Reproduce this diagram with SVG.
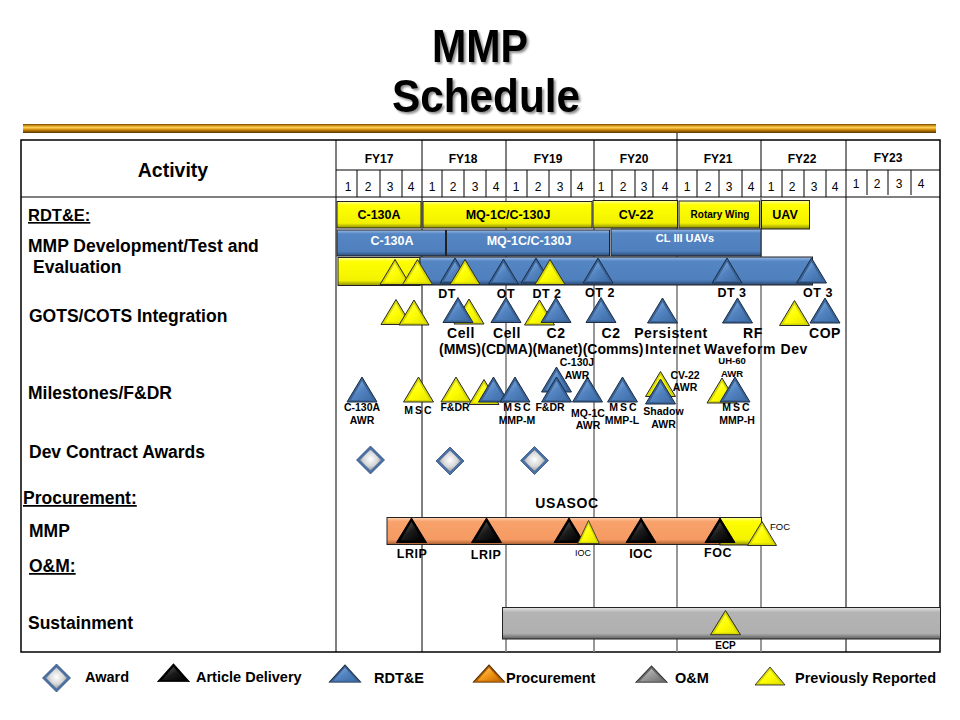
<svg xmlns="http://www.w3.org/2000/svg" xmlns:xlink="http://www.w3.org/1999/xlink" width="960" height="720" viewBox="0 0 960 720">
<style>
  text { font-family: "Liberation Sans", Arial, sans-serif; fill: #000; }
  .b { font-weight: bold; }
  .row { font-size: 17.5px; font-weight: bold; }
  .ul { text-decoration: underline; }
  .fy { font-size: 12px; font-weight: bold; text-anchor: middle; }
  .q { font-size: 12px; text-anchor: middle; }
  .bar { font-size: 12.5px; font-weight: bold; text-anchor: middle; }
  .barw { font-size: 12.5px; font-weight: bold; text-anchor: middle; fill: #fff; }
  .tl { font-size: 12.5px; font-weight: bold; text-anchor: middle; letter-spacing: 0.5px; }
  .gl { font-size: 14px; font-weight: bold; text-anchor: middle; letter-spacing: 0.6px; }
  .gl2 { font-size: 14px; font-weight: bold; text-anchor: middle; }
  .ml { font-size: 10.5px; font-weight: bold; text-anchor: middle; }
  .sp { letter-spacing: 2px; }
  .leg { font-size: 14.5px; font-weight: bold; }
  .grid { stroke: #000; stroke-width: 1; fill: none; }
  .gridg { stroke: #7f7f7f; stroke-width: 1.6; fill: none; }
  .ybar { fill: url(#gYel); stroke: #222; stroke-width: 1; }
  .bbar { fill: url(#gBlu); stroke: #222; stroke-width: 1; }
  .obar { fill: url(#gOra); stroke: #222; stroke-width: 1; }
  .gbar { fill: url(#gGry); stroke: #222; stroke-width: 1; }
</style>
<defs>
  <filter id="shadow" x="-10%" y="-20%" width="130%" height="150%">
    <feGaussianBlur in="SourceAlpha" stdDeviation="1"/>
    <feOffset dx="2" dy="2" result="off"/>
    <feComponentTransfer><feFuncA type="linear" slope="0.45"/></feComponentTransfer>
    <feMerge><feMergeNode/><feMergeNode in="SourceGraphic"/></feMerge>
  </filter>
  <linearGradient id="gGold" x1="0" y1="0" x2="0" y2="1">
    <stop offset="0" stop-color="#6e4300"/>
    <stop offset="0.2" stop-color="#d89a18"/>
    <stop offset="0.4" stop-color="#ffcf5a"/>
    <stop offset="0.55" stop-color="#e3a21c"/>
    <stop offset="0.75" stop-color="#a86c00"/>
    <stop offset="1" stop-color="#5a3500"/>
  </linearGradient>
  <linearGradient id="gYel" x1="0" y1="0" x2="0" y2="1">
    <stop offset="0" stop-color="#ffff99"/>
    <stop offset="0.15" stop-color="#ffff00"/>
    <stop offset="0.82" stop-color="#f2f200"/>
    <stop offset="1" stop-color="#8c8c00"/>
  </linearGradient>
  <linearGradient id="gBlu" x1="0" y1="0" x2="0" y2="1">
    <stop offset="0" stop-color="#9dbde6"/>
    <stop offset="0.15" stop-color="#5586c4"/>
    <stop offset="0.82" stop-color="#4f80bd"/>
    <stop offset="1" stop-color="#2a4a74"/>
  </linearGradient>
  <linearGradient id="gOra" x1="0" y1="0" x2="0" y2="1">
    <stop offset="0" stop-color="#ffd2b0"/>
    <stop offset="0.15" stop-color="#f9a26c"/>
    <stop offset="0.82" stop-color="#f59a62"/>
    <stop offset="1" stop-color="#a85e30"/>
  </linearGradient>
  <linearGradient id="gGry" x1="0" y1="0" x2="0" y2="1">
    <stop offset="0" stop-color="#e6e6e6"/>
    <stop offset="0.15" stop-color="#b4b4b4"/>
    <stop offset="0.82" stop-color="#b0b0b0"/>
    <stop offset="1" stop-color="#5e5e5e"/>
  </linearGradient>
  <linearGradient id="tgY" x1="0" y1="0" x2="1" y2="1">
    <stop offset="0" stop-color="#ffff80"/>
    <stop offset="0.5" stop-color="#ffff00"/>
    <stop offset="1" stop-color="#e6e600"/>
  </linearGradient>
  <linearGradient id="tgB" x1="0" y1="0" x2="1" y2="1">
    <stop offset="0" stop-color="#8fb4e3"/>
    <stop offset="0.5" stop-color="#5283c0"/>
    <stop offset="1" stop-color="#3e6ca6"/>
  </linearGradient>
  <linearGradient id="tgK" x1="0" y1="0" x2="1" y2="1">
    <stop offset="0" stop-color="#6a6a6a"/>
    <stop offset="0.5" stop-color="#1a1a1a"/>
    <stop offset="1" stop-color="#000"/>
  </linearGradient>
  <linearGradient id="tgO" x1="0" y1="0" x2="1" y2="1">
    <stop offset="0" stop-color="#ffd080"/>
    <stop offset="0.5" stop-color="#f39a1a"/>
    <stop offset="1" stop-color="#c66a00"/>
  </linearGradient>
  <linearGradient id="tgG" x1="0" y1="0" x2="1" y2="1">
    <stop offset="0" stop-color="#d0d0d0"/>
    <stop offset="0.5" stop-color="#9a9a9a"/>
    <stop offset="1" stop-color="#707070"/>
  </linearGradient>
  <radialGradient id="gDia" cx="0.5" cy="0.45" r="0.6">
    <stop offset="0" stop-color="#ffffff"/>
    <stop offset="0.55" stop-color="#d8d8d8"/>
    <stop offset="1" stop-color="#8e8e8e"/>
  </radialGradient>

  <!-- milestone triangles: apex at origin, 30 wide, 25 high -->
  <g id="triY">
    <path d="M0,0 L15,25 L-15,25 Z" fill="#d6d600" stroke="#2a2a2a" stroke-width="1"/>
    <path d="M0,4 L11,23 L-11,23 Z" fill="url(#tgY)"/>
  </g>
  <g id="triB">
    <path d="M0,0 L15,25 L-15,25 Z" fill="#3a6498" stroke="#1b2c44" stroke-width="1"/>
    <path d="M0,4 L11,23 L-11,23 Z" fill="url(#tgB)"/>
  </g>
  <g id="triK">
    <path d="M0,0 L15,25 L-15,25 Z" fill="#000" stroke="#000" stroke-width="1"/>
    <path d="M0,4 L11,23 L-11,23 Z" fill="url(#tgK)"/>
  </g>
  <g id="triO">
    <path d="M0,0 L15,25 L-15,25 Z" fill="#b86000" stroke="#4a2a00" stroke-width="1"/>
    <path d="M0,4 L11,23 L-11,23 Z" fill="url(#tgO)"/>
  </g>
  <g id="triG">
    <path d="M0,0 L15,25 L-15,25 Z" fill="#6a6a6a" stroke="#333" stroke-width="1"/>
    <path d="M0,4 L11,23 L-11,23 Z" fill="url(#tgG)"/>
  </g>
  <g id="dia">
    <path d="M0,-14 L14,0 L0,14 L-14,0 Z" fill="#4a70a4" stroke="#34527c" stroke-width="0.8"/>
    <path d="M0,-10.5 L10.5,0 L0,10.5 L-10.5,0 Z" fill="url(#gDia)"/>
  </g>
</defs>

<rect width="960" height="720" fill="#fff"/>

<!-- title -->
<g id="title">
  <g filter="url(#shadow)">
    <text x="480" y="62" font-size="46" class="b" text-anchor="middle" textLength="96" lengthAdjust="spacingAndGlyphs">MMP</text>
    <text x="486" y="112" font-size="46" class="b" text-anchor="middle" textLength="188" lengthAdjust="spacingAndGlyphs">Schedule</text>
  </g>
  <rect x="23" y="124" width="913" height="9" fill="url(#gGold)"/>
</g>

<!-- table frame and grid -->
<g id="grid">
  <rect x="21" y="140" width="919" height="512" fill="none" stroke="#000" stroke-width="1.5"/>
  <line class="grid" x1="336" y1="170" x2="940" y2="170"/>
  <line class="grid" x1="21" y1="197" x2="940" y2="197"/>
  <line class="grid" x1="336" y1="140" x2="336" y2="652"/>
  <line class="grid" x1="677" y1="133" x2="677" y2="140"/>
  <!-- fiscal-year boundaries -->
  <path class="grid" d="M422,140V197 M506,140V197 M594,140V197 M677,140V197 M761,140V197 M846,140V197"/>
  <path class="grid" d="M422,197V652 M846,197V652"/>
  <path class="gridg" d="M506,197V652 M594,197V652 M677,197V652 M761,197V652"/>
  <!-- quarter separators -->
  <path class="grid" d="M357,170V197 M380,170V197 M402,170V197 M442,170V197 M464,170V197 M486,170V197 M527,170V197 M549,170V197 M571,170V197 M612,170V197 M635,170V197 M653,170V197 M697,170V197 M719,170V197 M742,170V197 M782,170V197 M804,170V197 M826,170V197 M867,170V195 M888,170V195 M911,170V195"/>
</g>

<!-- header labels -->
<g id="header">
  <text x="173" y="177" font-size="19.5" class="b" text-anchor="middle">Activity</text>
  <text class="fy" x="379" y="163">FY17</text>
  <text class="fy" x="463" y="163">FY18</text>
  <text class="fy" x="548" y="163">FY19</text>
  <text class="fy" x="634" y="163">FY20</text>
  <text class="fy" x="718" y="163">FY21</text>
  <text class="fy" x="802" y="163">FY22</text>
  <text class="fy" x="888" y="162">FY23</text>
  <text class="q" x="348" y="191">1</text><text class="q" x="368" y="191">2</text><text class="q" x="390" y="191">3</text><text class="q" x="411" y="191">4</text>
  <text class="q" x="432" y="191">1</text><text class="q" x="453" y="191">2</text><text class="q" x="475" y="191">3</text><text class="q" x="496" y="191">4</text>
  <text class="q" x="516" y="191">1</text><text class="q" x="538" y="191">2</text><text class="q" x="560" y="191">3</text><text class="q" x="580" y="191">4</text>
  <text class="q" x="601" y="191">1</text><text class="q" x="623" y="191">2</text><text class="q" x="644" y="191">3</text><text class="q" x="665" y="191">4</text>
  <text class="q" x="687" y="191">1</text><text class="q" x="708" y="191">2</text><text class="q" x="729" y="191">3</text><text class="q" x="751" y="191">4</text>
  <text class="q" x="771" y="191">1</text><text class="q" x="792" y="191">2</text><text class="q" x="814" y="191">3</text><text class="q" x="835" y="191">4</text>
  <text class="q" x="856" y="188">1</text><text class="q" x="877" y="188">2</text><text class="q" x="899" y="188">3</text><text class="q" x="921" y="188">4</text>
</g>

<!-- activity labels -->
<g id="activities">
  <text class="row ul" x="28" y="221" style="font-size:16.5px">RDT&amp;E:</text>
  <text class="row" x="28" y="252">MMP Development/Test and</text>
  <text class="row" x="33" y="273">Evaluation</text>
  <text class="row" x="29" y="322">GOTS/COTS Integration</text>
  <text class="row" x="28" y="399">Milestones/F&amp;DR</text>
  <text class="row" x="29" y="458">Dev Contract Awards</text>
  <text class="row ul" x="23" y="504">Procurement:</text>
  <text class="row" x="29" y="537">MMP</text>
  <text class="row ul" x="29" y="572">O&amp;M:</text>
  <text class="row" x="28" y="629">Sustainment</text>
</g>

<!-- RDT&E platform bars -->
<g id="platforms-reported">
  <rect class="ybar" x="337" y="201.5" width="84" height="26.5"/>
  <text class="bar" x="379" y="218.5">C-130A</text>
  <rect class="ybar" x="423" y="201.5" width="169" height="26.5"/>
  <text class="bar" x="508" y="218.5">MQ-1C/C-130J</text>
  <rect class="ybar" x="593" y="200.5" width="84.5" height="27.5"/>
  <text class="bar" x="636" y="218.5">CV-22</text>
  <rect class="ybar" x="679" y="201" width="80.5" height="27"/>
  <text class="bar" x="720" y="218" style="font-size:10px">Rotary Wing</text>
  <rect class="ybar" x="761.5" y="200.5" width="48" height="28.5"/>
  <text class="bar" x="785" y="218.5">UAV</text>
</g>
<g id="platforms-current">
  <rect class="bbar" x="337" y="230" width="108.5" height="26"/>
  <text class="barw" x="392" y="245">C-130A</text>
  <rect class="bbar" x="446.5" y="230" width="163" height="26"/>
  <text class="barw" x="529" y="245">MQ-1C/C-130J</text>
  <rect class="bbar" x="611" y="229" width="150" height="27"/>
  <text class="barw" x="685" y="242" style="font-size:11px">CL III UAVs</text>
</g>

<!-- development / test and evaluation -->
<g id="dev-test">
  <rect class="ybar" x="338" y="257.5" width="82" height="28"/>
  <rect class="bbar" x="420" y="257" width="392.5" height="28"/>
  <use xlink:href="#triY" transform="translate(395,259.5)"/>
  <use xlink:href="#triY" transform="translate(417.5,259.5)"/>
  <use xlink:href="#triB" transform="translate(455,258)"/>
  <use xlink:href="#triY" transform="translate(465,259.5)"/>
  <use xlink:href="#triB" transform="translate(503.5,259)"/>
  <use xlink:href="#triB" transform="translate(536,258)"/>
  <use xlink:href="#triY" transform="translate(550,259.5)"/>
  <use xlink:href="#triB" transform="translate(598,258)"/>
  <use xlink:href="#triB" transform="translate(727,258)"/>
  <use xlink:href="#triB" transform="translate(811.5,258)"/>
  <text class="tl" x="447" y="297.5">DT</text>
  <text class="tl" x="506" y="297.5">OT</text>
  <text class="tl" x="547" y="297.5">DT 2</text>
  <text class="tl" x="600" y="297">OT 2</text>
  <text class="tl" x="732" y="297">DT 3</text>
  <text class="tl" x="818" y="297">OT 3</text>
</g>

<!-- GOTS/COTS integration -->
<g id="gots-cots">
  <use xlink:href="#triY" transform="translate(396,299.5)"/>
  <use xlink:href="#triY" transform="translate(414,300)"/>
  <use xlink:href="#triY" transform="translate(469,299)"/>
  <use xlink:href="#triB" transform="translate(458,297.5)"/>
  <use xlink:href="#triB" transform="translate(506,297.5)"/>
  <use xlink:href="#triY" transform="translate(539.5,300)"/>
  <use xlink:href="#triB" transform="translate(556,297.5)"/>
  <use xlink:href="#triB" transform="translate(601,297.5)"/>
  <use xlink:href="#triB" transform="translate(662.5,298)"/>
  <use xlink:href="#triB" transform="translate(737.5,298)"/>
  <use xlink:href="#triY" transform="translate(794.5,300.5)"/>
  <use xlink:href="#triB" transform="translate(825,298)"/>
  <text class="gl" x="461" y="337.5">Cell</text>
  <text class="gl2" x="460" y="353.5">(MMS)</text>
  <text class="gl" x="507" y="337.5">Cell</text>
  <text class="gl2" x="507" y="353.5">(CDMA)</text>
  <text class="gl" x="556" y="337.5">C2</text>
  <text class="gl2" x="557.5" y="353.5">(Manet)</text>
  <text class="gl" x="611" y="337.5">C2</text>
  <text class="gl2" x="613" y="353.5">(Comms)</text>
  <text class="gl" x="671" y="337.5">Persistent</text>
  <text class="gl" x="673" y="353.5">Internet</text>
  <text class="gl" x="753" y="337.5">RF</text>
  <text class="gl" x="756" y="353.5">Waveform Dev</text>
  <text class="gl" x="825" y="337.5">COP</text>
</g>

<!-- milestones and F&DR -->
<g id="milestones">
  <use xlink:href="#triB" transform="translate(362,377)"/>
  <use xlink:href="#triY" transform="translate(418.5,377)"/>
  <use xlink:href="#triY" transform="translate(456,377)"/>
  <use xlink:href="#triY" transform="translate(484,379.5)"/>
  <use xlink:href="#triB" transform="translate(493.5,377)"/>
  <use xlink:href="#triB" transform="translate(515,377)"/>
  <use xlink:href="#triB" transform="translate(556.5,367)"/>
  <use xlink:href="#triB" transform="translate(556.5,377)"/>
  <use xlink:href="#triB" transform="translate(587.5,377)"/>
  <use xlink:href="#triB" transform="translate(622.5,377)"/>
  <use xlink:href="#triY" transform="translate(660.5,371.5)"/>
  <use xlink:href="#triB" transform="translate(660.5,379)"/>
  <use xlink:href="#triY" transform="translate(722,378)"/>
  <use xlink:href="#triB" transform="translate(735,377)"/>
  <text class="ml" x="362" y="411">C-130A</text>
  <text class="ml" x="362" y="423.5">AWR</text>
  <text class="ml sp" x="419" y="413.5">MSC</text>
  <text class="ml" x="455" y="411">F&amp;DR</text>
  <text class="ml sp" x="518" y="411">MSC</text>
  <text class="ml" x="517" y="424">MMP-M</text>
  <text class="ml" x="577" y="365.5">C-130J</text>
  <text class="ml" x="577" y="379">AWR</text>
  <text class="ml" x="550" y="411">F&amp;DR</text>
  <text class="ml" x="588" y="417">MQ-1C</text>
  <text class="ml" x="588" y="428.5">AWR</text>
  <text class="ml sp" x="624" y="411">MSC</text>
  <text class="ml" x="622" y="424">MMP-L</text>
  <text class="ml" x="685" y="378.5">CV-22</text>
  <text class="ml" x="685" y="391">AWR</text>
  <text class="ml" x="663.5" y="414.5">Shadow</text>
  <text class="ml" x="663.5" y="428">AWR</text>
  <text class="ml" x="732" y="364" style="font-size:9.5px">UH-60</text>
  <text class="ml" x="732" y="377" style="font-size:9.5px">AWR</text>
  <text class="ml sp" x="737" y="411">MSC</text>
  <text class="ml" x="737" y="423.5">MMP-H</text>
</g>

<!-- development contract awards -->
<g id="awards">
  <use xlink:href="#dia" transform="translate(370.5,460)"/>
  <use xlink:href="#dia" transform="translate(450,461)"/>
  <use xlink:href="#dia" transform="translate(534.5,460.5)"/>
</g>

<!-- procurement -->
<g id="procurement">
  <text class="gl" x="567" y="507.5">USASOC</text>
  <rect class="obar" x="387" y="517.5" width="333" height="27"/>
  <rect class="ybar" x="720" y="517.5" width="41.5" height="27.5"/>
  <use xlink:href="#triK" transform="translate(411.5,518) scale(1,0.98)"/>
  <use xlink:href="#triK" transform="translate(486.5,518) scale(1,0.98)"/>
  <use xlink:href="#triK" transform="translate(569,518) scale(1,0.98)"/>
  <use xlink:href="#triY" transform="translate(588.5,520.5) scale(0.72,0.92)"/>
  <use xlink:href="#triK" transform="translate(641,518) scale(1,0.98)"/>
  <use xlink:href="#triK" transform="translate(720,518) scale(1,0.98)"/>
  <use xlink:href="#triY" transform="translate(762,521.5) scale(0.97,0.96)"/>
  <text class="tl" x="412" y="557.5">LRIP</text>
  <text class="tl" x="486" y="559">LRIP</text>
  <text x="583" y="556" text-anchor="middle" style="font-size:9px">IOC</text>
  <text class="tl" x="641" y="558">IOC</text>
  <text class="tl" x="718" y="557">FOC</text>
  <text x="770" y="530" style="font-size:9.5px">FOC</text>
</g>

<!-- sustainment -->
<g id="sustainment">
  <rect class="gbar" x="502.5" y="607.5" width="438" height="31.5"/>
  <use xlink:href="#triY" transform="translate(725.5,610.5) scale(1,0.97)"/>
  <text class="ml" x="725.5" y="648.5" style="font-size:10px">ECP</text>
</g>

<!-- legend -->
<g id="legend">
  <use xlink:href="#dia" transform="translate(56.5,678)"/>
  <text class="leg" x="85" y="682">Award</text>
  <use xlink:href="#triK" transform="translate(173.5,664) scale(1.05,0.71)"/>
  <text class="leg" x="196" y="682">Article Delivery</text>
  <use xlink:href="#triB" transform="translate(345,665) scale(1.05,0.69)"/>
  <text class="leg" x="374" y="682.5">RDT&amp;E</text>
  <use xlink:href="#triO" transform="translate(489,665) scale(1.05,0.69)"/>
  <text class="leg" x="506" y="682.5">Procurement</text>
  <use xlink:href="#triG" transform="translate(651.5,666) scale(1.05,0.66)"/>
  <text class="leg" x="675" y="682.5">O&amp;M</text>
  <use xlink:href="#triY" transform="translate(770,667) scale(1,0.72)"/>
  <text class="leg" x="795" y="682.5">Previously Reported</text>
</g>
</svg>
